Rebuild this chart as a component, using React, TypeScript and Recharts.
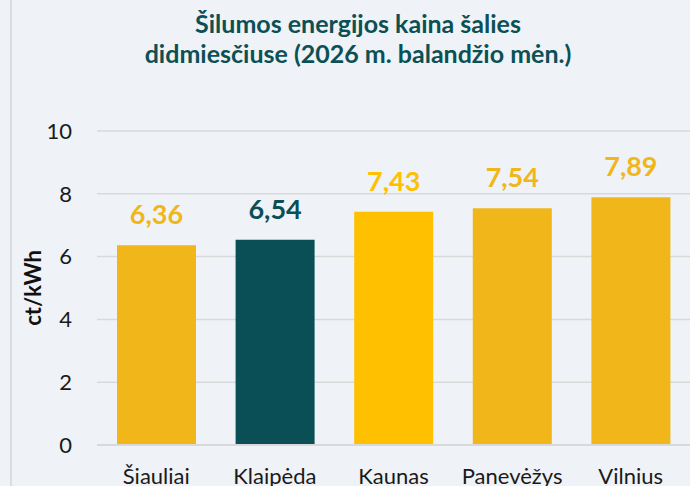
import { BarChart, Bar, XAxis, YAxis, CartesianGrid, Cell, LabelList } from 'recharts';

const cities = ['Šiauliai', 'Klaipėda', 'Kaunas', 'Panevėžys', 'Vilnius'];
const prices = [6.36, 6.54, 7.43, 7.54, 7.89];
const yTicks = [0, 2, 4, 6, 8, 10];

// bar + label colours, one per city
const COLORS = ['#F0B61A', '#0A4F56', '#FFC000', '#F0B61A', '#F0B61A'];

const data = cities.map((name, i) => ({ name, value: prices[i] }));

const FONT = 'Lato, "Open Sans", sans-serif';

const renderValueLabel = (props: any) => {
  const { x, y, width, value, index } = props;
  return (
    <text
      x={x + width / 2}
      y={y - 21}
      textAnchor="middle"
      fill={COLORS[index]}
      fontSize={27}
      fontWeight={700}
      fontFamily={FONT}
    >
      {String(value).replace('.', ',')}
    </text>
  );
};

const renderYLabel = ({ viewBox }: any) => {
  const cx = viewBox.x + 32;
  const cy = viewBox.y + viewBox.height / 2;
  return (
    <text
      x={cx}
      y={cy}
      transform={`rotate(-90, ${cx}, ${cy})`}
      textAnchor="middle"
      dominantBaseline="central"
      fontSize={22}
      fontWeight={700}
      fill="#111"
      fontFamily={FONT}
    >
      ct/kWh
    </text>
  );
};

export default function App() {
  return (
    <div style={{ position: 'absolute', left: 0, top: 0, width: 690, height: 486, background: '#EFF2F6', overflow: 'hidden', fontFamily: FONT }}>
      <div style={{ position: 'absolute', left: 10, top: 0, width: 2, height: 486, background: '#D9DDE2' }} />
      <div
        style={{
          position: 'absolute',
          left: 26,
          top: 8,
          width: 664,
          textAlign: 'center',
          color: '#0B5055',
          fontWeight: 700,
          fontSize: 25,
          lineHeight: '30px',
        }}
      >
        Šilumos energijos kaina šalies
        <br />
        didmiesčiuse (2026 m. balandžio mėn.)
      </div>
      <BarChart
        width={690}
        height={486}
        data={data}
        margin={{ top: 131, right: 0, bottom: 0, left: 0 }}
        style={{ position: 'absolute', left: 0, top: 0 }}
      >
        <CartesianGrid vertical={false} stroke="#D9D9D9" strokeWidth={1.5} />
        <XAxis
          dataKey="name"
          height={41}
          tickLine={false}
          tickSize={0}
          tickMargin={23}
          axisLine={{ stroke: '#D9D9D9', strokeWidth: 2 }}
          tick={{ fontSize: 22, fill: '#1a1a1a', fontFamily: FONT }}
          interval={0}
        />
        <YAxis
          width={97}
          domain={[0, 10]}
          ticks={yTicks}
          tickLine={false}
          tickSize={0}
          tickMargin={25}
          axisLine={false}
          tick={{ fontSize: 22, fill: '#1a1a1a', fontFamily: FONT }}
          label={{ content: renderYLabel }}
        />
        <Bar dataKey="value" barSize={79} isAnimationActive={false}>
          {data.map((d, i) => (
            <Cell key={d.name} fill={COLORS[i]} />
          ))}
          <LabelList dataKey="value" content={renderValueLabel} />
        </Bar>
      </BarChart>
    </div>
  );
}
